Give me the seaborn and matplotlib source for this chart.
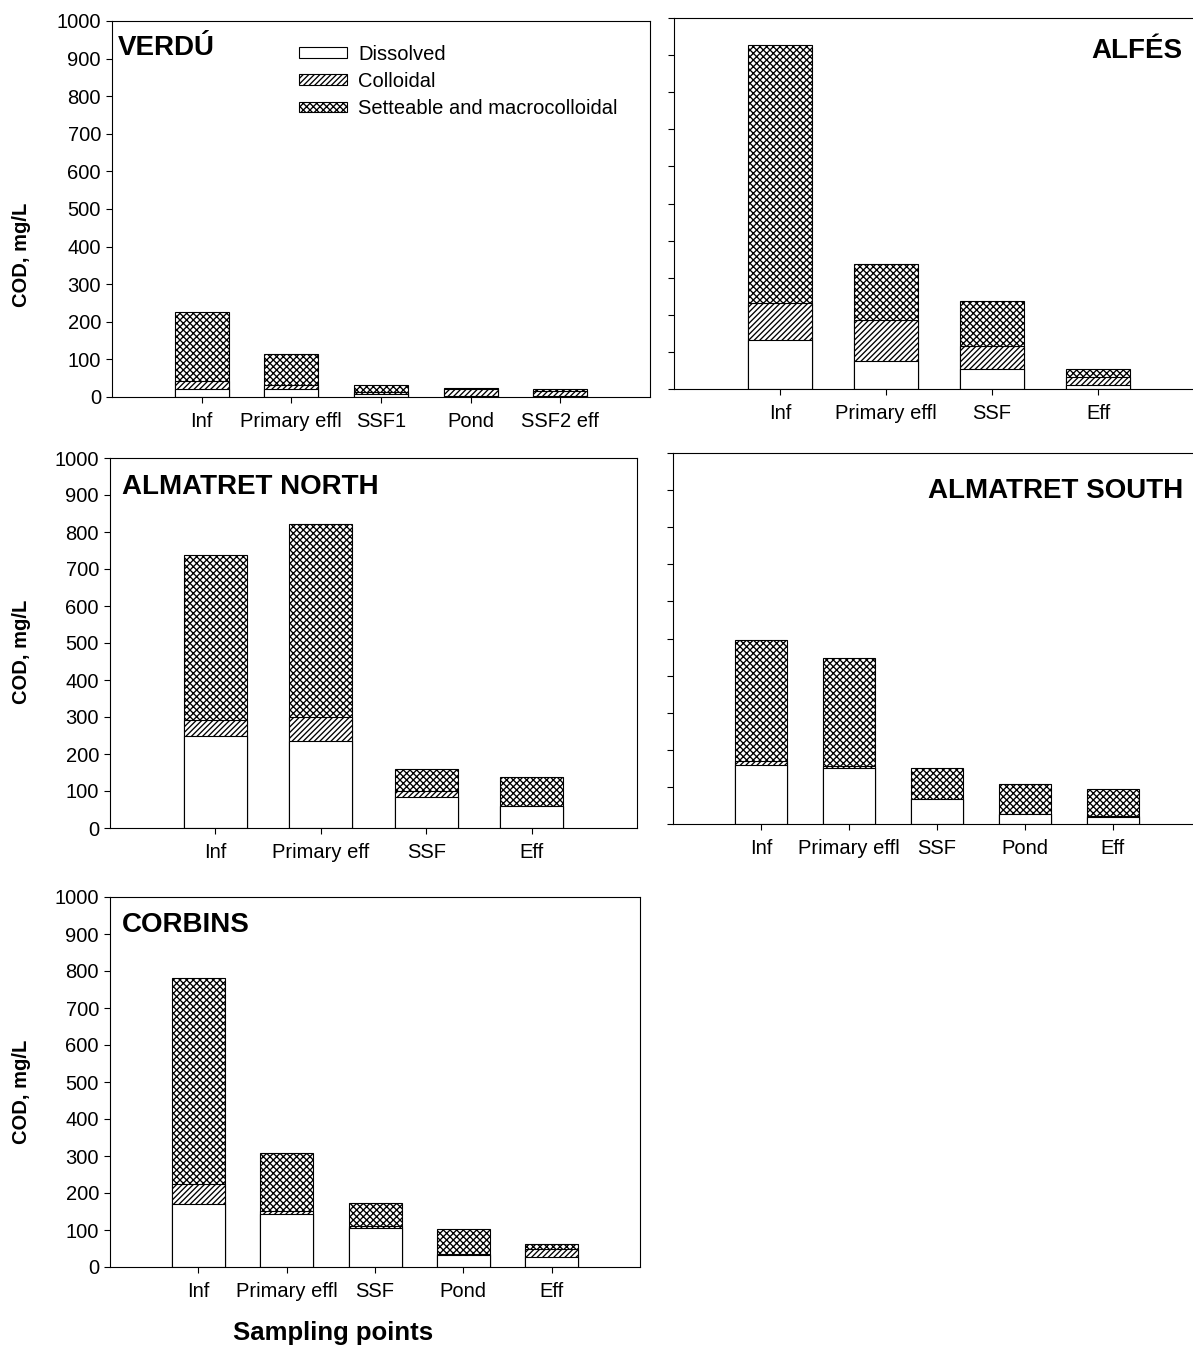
import numpy as np
import pandas as pd
import seaborn as sns
import matplotlib.pyplot as plt
from matplotlib.patches import Patch

# COD fractions (mg/L): dissolved, colloidal, setteable+macrocolloidal
verdu_cats = ["Inf", "Primary effl", "SSF1", "Pond", "SSF2 eff"]
verdu_dis = [22, 20, 8, 2, 3]
verdu_col = [21, 13, 6, 20, 14]
verdu_set = [182, 82, 17, 3, 3]

alfes_cats = ["Inf", "Primary effl", "SSF", "Eff"]
alfes_dis = [132, 76, 55, 12]
alfes_col = [100, 109, 60, 19]
alfes_set = [694, 153, 122, 24]

north_cats = ["Inf", "Primary eff", "SSF", "Eff"]
north_dis = [250, 235, 84, 59]
north_col = [41, 64, 15, 1]
north_set = [446, 523, 60, 79]

south_cats = ["Inf", "Primary effl", "SSF", "Pond", "Eff"]
south_dis = [160, 152, 67, 26, 18]
south_col = [10, 5, 1, 0, 3]
south_set = [325, 291, 82, 81, 72]

corbins_cats = ["Inf", "Primary effl", "SSF", "Pond", "Eff"]
corbins_dis = [169, 144, 106, 33, 26]
corbins_col = [55, 8, 5, 3, 22]
corbins_set = [556, 155, 61, 68, 14]

legend_labels = ["Dissolved", "Colloidal", "Setteable and macrocolloidal"]

sns.set_style("ticks")
plt.rcParams["font.family"] = ["Liberation Sans", "DejaVu Sans"]
plt.rcParams["hatch.linewidth"] = 0.95
for k in ["text.color", "axes.labelcolor", "xtick.color", "ytick.color", "axes.edgecolor"]:
    plt.rcParams[k] = "black"

W, H = 1193, 1349
fig = plt.figure(figsize=(W / 100, H / 100), dpi=100)


def box(l, t, r, b):
    # pixel box (top-left origin) -> figure fraction rect
    return [l / W, 1 - b / H, (r - l) / W, (b - t) / H]


def fpx(x, y):
    return x / W, 1 - y / H


HATCH_COL = "//////"
HATCH_SET = "xxxxx"

panels = [
    ("VERDÚ", verdu_cats, verdu_dis, verdu_col, verdu_set, box(112, 21, 650, 397), True, (118, 55, "left")),
    ("ALFÉS", alfes_cats, alfes_dis, alfes_col, alfes_set, box(674, 18, 1204, 389), False, (1182, 58, "right")),
    ("ALMATRET NORTH", north_cats, north_dis, north_col, north_set, box(110, 458, 637, 828), True, (122, 494, "left")),
    ("ALMATRET SOUTH", south_cats, south_dis, south_col, south_set, box(673, 453, 1201, 824), False, (1183, 498, "right")),
    ("CORBINS", corbins_cats, corbins_dis, corbins_col, corbins_set, box(110, 897, 640, 1267), True, (122, 932, "left")),
]

for title, cats, dis, col, sett, rect, ylabels, (tx, ty, ha) in panels:
    ax = fig.add_axes(rect)
    df = pd.DataFrame({"point": cats, "dis": dis, "col": col, "set": sett})
    df["top_col"] = df["dis"] + df["col"]
    df["total"] = df["top_col"] + df["set"]

    # overlapping bars: total (crosshatch), dissolved+colloidal (diagonal), dissolved (plain)
    for ycol, hatch in [("total", HATCH_SET), ("top_col", HATCH_COL), ("dis", None)]:
        sns.barplot(data=df, x="point", y=ycol, order=cats, color="white", saturation=1,
                    edgecolor="black", linewidth=0.8, width=0.6, hatch=hatch, ax=ax)

    ax.set_xlim(-1, len(cats))
    ax.set_ylim(0, 1000)
    ax.set_yticks(np.arange(0, 1001, 100))
    ax.set_xlabel("")
    ax.set_ylabel("")
    for s in ax.spines.values():
        s.set_visible(True)
        s.set_linewidth(0.8)
        s.set_color("black")
    ax.tick_params(direction="out", length=4.5, width=0.8, labelsize=14.5, colors="black")
    ax.tick_params(axis="x", pad=6)
    if not ylabels:
        ax.tick_params(axis="y", labelleft=False)

    fig.text(*fpx(tx, ty), title, fontsize=20, fontweight="bold", ha=ha, va="baseline",
             color="black")

    if title == "VERDÚ":
        handles = [Patch(facecolor="white", edgecolor="black", linewidth=0.8, hatch=h)
                   for h in [None, HATCH_COL, HATCH_SET]]
        ax.legend(handles, legend_labels, loc="upper left", bbox_to_anchor=fpx(299, 45),
                  bbox_transform=fig.transFigure, frameon=False, fontsize=14.5,
                  handlelength=2.4, handleheight=0.45, handletextpad=0.55,
                  labelspacing=0.4, borderpad=0, borderaxespad=0)

for yc in [255, 652, 1092]:
    fig.text(*fpx(22, yc), "COD, mg/L", rotation=90, fontsize=14.5, fontweight="bold",
             ha="center", va="center", color="black")

fig.text(*fpx(333, 1333), "Sampling points", fontsize=18.5, fontweight="bold",
         ha="center", va="center", color="black")

fig.savefig("out.png", dpi=100)
